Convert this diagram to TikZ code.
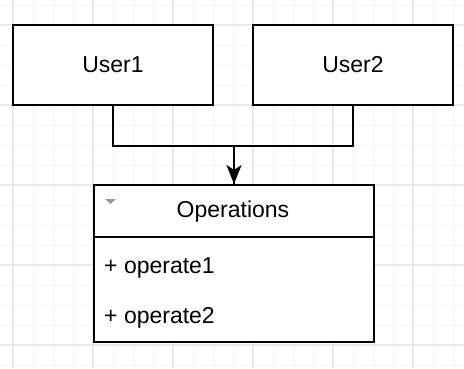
\documentclass[tikz,border=0pt]{standalone}
\usepackage{fontspec}
\setmainfont{Liberation Sans}
\usetikzlibrary{arrows.meta}
\definecolor{gridminor}{HTML}{F3F3F3}
\definecolor{gridmajor}{HTML}{EAEAEA}
\definecolor{tri}{HTML}{999999}
\begin{document}
\begin{tikzpicture}[x=1pt,y=-1pt,
  minorline/.style={draw=gridminor,line width=1pt},
  majorline/.style={draw=gridmajor,line width=1.2pt},
  box/.style={draw=black,line width=2pt,fill=white,rectangle,inner sep=0pt,font=\fontsize{23}{27}\selectfont},
  conn/.style={draw=black,line width=2pt},
  txt/.style={inner sep=0pt,font=\fontsize{23}{27}\selectfont}]
\useasboundingbox (0,0) rectangle (464,368);
\fill[white] (0,0) rectangle (464,368);
\foreach \x in {13,33,...,453} \draw[minorline] (\x,0) -- (\x,368);
\foreach \y in {5,25,...,365} \draw[minorline] (0,\y) -- (464,\y);
\foreach \x in {13,93,...,453} \draw[majorline] (\x,0) -- (\x,368);
\foreach \y in {25,105,...,345} \draw[majorline] (0,\y) -- (464,\y);
% users
\node[box,minimum width=200pt,minimum height=80pt] (u1) at (113,65) {User1};
\node[box,minimum width=200pt,minimum height=80pt] (u2) at (353,65) {User2};
% operations class
\node[box,minimum width=280pt,minimum height=52pt,anchor=north west] (opsh) at (93,184) {};
\node[txt] (opst) at (233,212) {Operations};
\node[box,minimum width=280pt,minimum height=105pt,anchor=north west] (opsb) at (93,236) {};
\node[txt,anchor=west] (op1) at (104,268) {+ operate1};
\node[txt,anchor=west] (op2) at (104,318) {+ operate2};
\fill[tri] (105,199) -- (116,199) -- (110.5,204) -- cycle;
% connectors
\draw[conn] (u2.south) -- ++(0,40) -| (opsh.north);
\draw[conn,-{Stealth[length=19pt,width=15pt,inset=5pt]}] (u1.south) -- ++(0,40) -| (opsh.north);
\end{tikzpicture}
\end{document}
